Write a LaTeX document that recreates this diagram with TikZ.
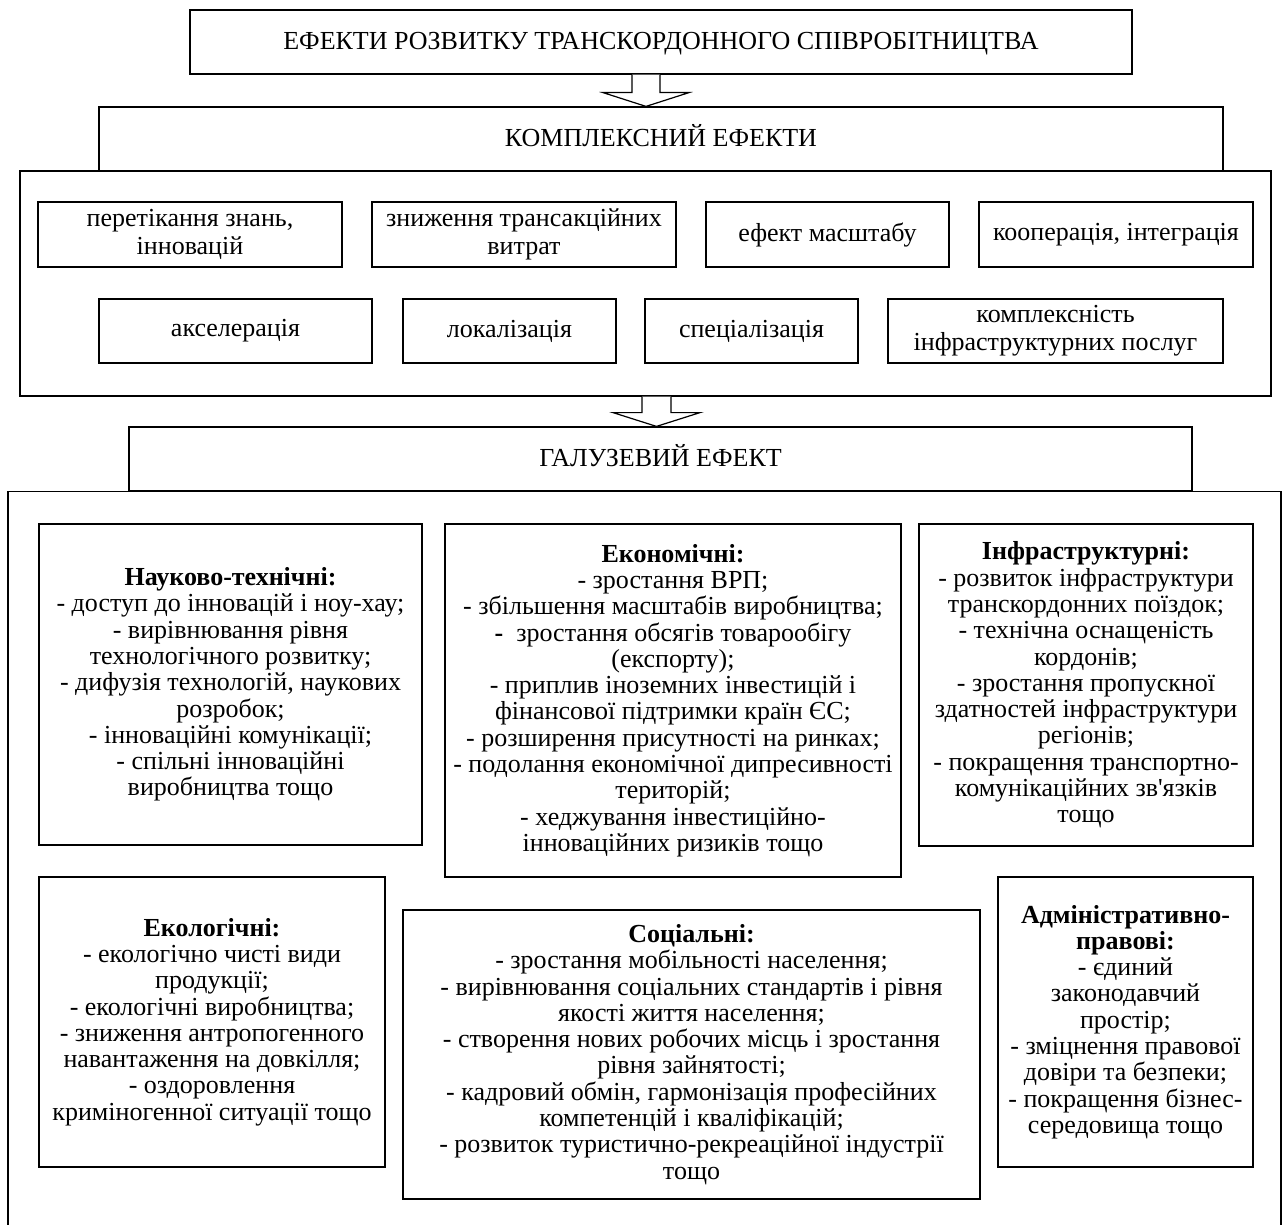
\documentclass[tikz,border=0pt]{standalone}
\usepackage{fontspec}
\setmainfont{Liberation Serif}
\usetikzlibrary{calc}
\newcommand\efbody{\fontsize{26}{26.3}\selectfont}
\newcommand\efsmall{\fontsize{26}{28}\selectfont}
\begin{document}
\begin{tikzpicture}[x=1pt,y=-1pt,
  box/.style={draw, line width=1.2pt, inner sep=0pt, align=center, font=\efbody},
  smallbox/.style={box, font=\efsmall},
  blockarrow/.style={draw, line width=1.2pt, fill=white, line join=miter},
  frame/.style={draw, line width=1.2pt}]
\useasboundingbox (0,0) rectangle (1285,1225);

% headings
\node[box, minimum width=942pt, minimum height=64pt, text depth=3pt] (top) at (661,42)
  {ЕФЕКТИ РОЗВИТКУ ТРАНСКОРДОННОГО СПІВРОБІТНИЦТВА};
\node[box, minimum width=1124pt, minimum height=64pt, text depth=7pt] (komp) at (661,139)
  {КОМПЛЕКСНИЙ ЕФЕКТИ};
\node[box, minimum width=1251pt, minimum height=225pt] (kompc) at (645.5,283.5) {};

% complex effects, first row
\node[smallbox, minimum width=304pt, minimum height=65pt] (k1) at (190,234.5)
  {перетікання знань,\\інновацій};
\node[smallbox, minimum width=304pt, minimum height=65pt] (k2) at (524,234.5)
  {зниження трансакційних\\витрат};
\node[smallbox, minimum width=243pt, minimum height=65pt] (k3) at (827.5,234.5)
  {ефект масштабу};
\node[smallbox, minimum width=274pt, minimum height=65pt] (k4) at (1116,234.5)
  {кооперація, інтеграція};
% complex effects, second row
\node[smallbox, minimum width=273pt, minimum height=64pt] (k5) at (235.5,331)
  {акселерація};
\node[smallbox, minimum width=213pt, minimum height=64pt] (k6) at (509.5,331)
  {локалізація};
\node[smallbox, minimum width=213pt, minimum height=64pt] (k7) at (751.5,331)
  {спеціалізація};
\node[smallbox, minimum width=335pt, minimum height=64pt] (k8) at (1055.5,331)
  {комплексність\\інфраструктурних послуг};

\node[box, minimum width=1063pt, minimum height=64pt, text depth=7pt] (galuz) at (660.5,459)
  {ГАЛУЗЕВИЙ ЕФЕКТ};

% outer frame of the sectoral effects (open below)
\coordinate (fl) at (8,1240);
\coordinate (fr) at (1281,1240);
\draw[frame] (fl) -- (fl |- galuz.south) -- (fr |- galuz.south) -- (fr);

% sectoral effects
\node[box, minimum width=383pt, minimum height=321pt] (nauk) at (230.5,684.5)
  {\textbf{Науково-технічні:}\\
   - доступ до інновацій і ноу-хау;\\
   - вирівнювання рівня\\
   технологічного розвитку;\\
   - дифузія технологій, наукових\\
   розробок;\\
   - інноваційні комунікації;\\
   - спільні інноваційні\\
   виробництва тощо};
\node[box, minimum width=456pt, minimum height=353pt] (econ) at (673,700.5)
  {\textbf{Економічні:}\\
   - зростання ВРП;\\
   - збільшення масштабів виробництва;\\
   \textbf{-}\ \ зростання обсягів товарообігу\\
   (експорту);\\
   - приплив іноземних інвестицій і\\
   фінансової підтримки країн ЄС;\\
   - розширення присутності на ринках;\\
   - подолання економічної дипресивності\\
   територій;\\
   - хеджування інвестиційно-\\
   інноваційних ризиків тощо};
\node[box, minimum width=334pt, minimum height=322pt] (infra) at (1086,685)
  {\textbf{Інфраструктурні:}\\
   - розвиток інфраструктури\\
   транскордонних поїздок;\\
   - технічна оснащеність\\
   кордонів;\\
   - зростання пропускної\\
   здатностей інфраструктури\\
   регіонів;\\
   - покращення транспортно-\\
   комунікаційних зв\textquotesingle язків\\
   тощо};
\node[box, minimum width=346pt, minimum height=290pt] (eco) at (212,1022)
  {\textbf{Екологічні:}\\
   - екологічно чисті види\\
   продукції;\\
   - екологічні виробництва;\\
   - зниження антропогенного\\
   навантаження на довкілля;\\
   - оздоровлення\\
   криміногенної ситуації тощо};
\node[box, minimum width=577pt, minimum height=289pt] (soc) at (691.5,1054.5)
  {\textbf{Соціальні:}\\
   - зростання мобільності населення;\\
   - вирівнювання соціальних стандартів і рівня\\
   якості життя населення;\\
   - створення нових робочих місць і зростання\\
   рівня зайнятості;\\
   - кадровий обмін, гармонізація професійних\\
   компетенцій і кваліфікацій;\\
   - розвиток туристично-рекреаційної індустрії\\
   тощо};
\node[box, minimum width=255pt, minimum height=290pt] (adm) at (1125.5,1022)
  {\textbf{Адміністративно-}\\
   \textbf{правові:}\\
   - єдиний\\
   законодавчий\\
   простір;\\
   - зміцнення правової\\
   довіри та безпеки;\\
   - покращення бізнес-\\
   середовища тощо};

% block arrows between the levels
\coordinate (a1) at (646,0 |- top.south);
\coordinate (a1t) at (646,0 |- komp.north);
\draw[blockarrow] ($(a1)+(-14,0)$) -- ($(a1)+(-14,18)$) -- ($(a1)+(-43,18)$)
  -- (a1t) -- ($(a1)+(43,18)$) -- ($(a1)+(14,18)$) -- ($(a1)+(14,0)$);
\coordinate (a2) at (656.5,0 |- kompc.south);
\coordinate (a2t) at (656.5,0 |- galuz.north);
\draw[blockarrow] ($(a2)+(-14.5,0)$) -- ($(a2)+(-14.5,16)$) -- ($(a2)+(-43.5,16)$)
  -- (a2t) -- ($(a2)+(43.5,16)$) -- ($(a2)+(14.5,16)$) -- ($(a2)+(14.5,0)$);
\end{tikzpicture}
\end{document}
